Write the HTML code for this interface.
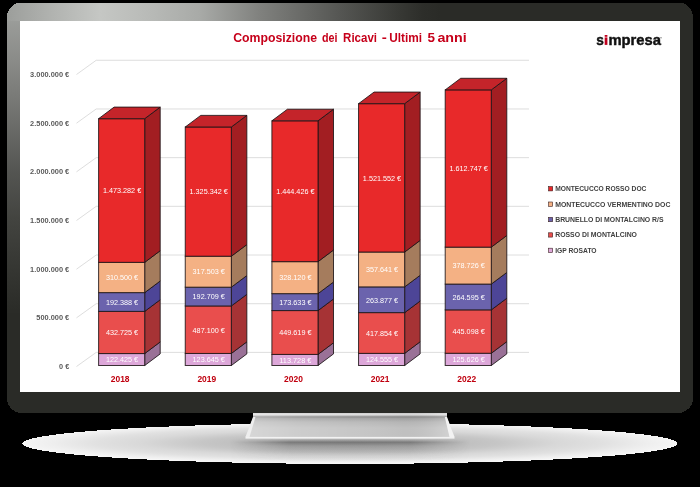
<!DOCTYPE html><html><head><meta charset="utf-8"><style>html,body{margin:0;padding:0;background:#000000;}svg{display:block;will-change:transform}text{font-family:"Liberation Sans",sans-serif}</style></head><body>
<svg width="700" height="487" viewBox="0 0 700 487">
<defs>
<radialGradient id="shg" cx="350" cy="443" r="330" gradientUnits="userSpaceOnUse" gradientTransform="translate(350 443) scale(1 0.062) translate(-350 -443)">
<stop offset="0" stop-color="#b0b0b0"/><stop offset="0.35" stop-color="#c0c0c0"/><stop offset="0.45" stop-color="#c6c6c6"/><stop offset="0.63" stop-color="#d8d8d8"/><stop offset="0.77" stop-color="#e1e1e1"/><stop offset="0.9" stop-color="#eeeeee"/><stop offset="1" stop-color="#f6f6f6"/>
</radialGradient>
<linearGradient id="topg" x1="7" y1="0" x2="440" y2="0" gradientUnits="userSpaceOnUse">
<stop offset="0" stop-color="#9c9e9b"/><stop offset="0.0993" stop-color="#b0b2af"/><stop offset="0.2148" stop-color="#c5c7c4"/><stop offset="0.33" stop-color="#b8bab7"/><stop offset="0.4457" stop-color="#a8aaa7"/><stop offset="0.584" stop-color="#80817e"/><stop offset="0.769" stop-color="#555653"/><stop offset="0.908" stop-color="#373834"/><stop offset="0.96" stop-color="#2d2e2a"/><stop offset="1" stop-color="#2a2b27"/>
</linearGradient>
<linearGradient id="leftg" x1="0" y1="21" x2="0" y2="310" gradientUnits="userSpaceOnUse">
<stop offset="0" stop-color="#9a9c99"/><stop offset="0.138" stop-color="#8a8b88"/><stop offset="0.343" stop-color="#6e6f6c"/><stop offset="0.512" stop-color="#555653"/><stop offset="0.682" stop-color="#434440"/><stop offset="0.862" stop-color="#353632"/><stop offset="1" stop-color="#2b2c28"/>
</linearGradient>
<linearGradient id="standg" x1="0" y1="416" x2="0" y2="437" gradientUnits="userSpaceOnUse">
<stop offset="0" stop-color="#b8b8b8"/><stop offset="0.3" stop-color="#d4d4d4"/><stop offset="1" stop-color="#c8c8c8"/>
</linearGradient>
<linearGradient id="neckv" x1="0" y1="412" x2="0" y2="437" gradientUnits="userSpaceOnUse">
<stop offset="0" stop-color="#a8a8a8"/><stop offset="0.06" stop-color="#d4d4d4"/><stop offset="0.12" stop-color="#e2e2e2"/><stop offset="0.16" stop-color="#a8a8a8"/><stop offset="0.2" stop-color="#8e8e8e"/><stop offset="0.26" stop-color="#a6a6a6"/><stop offset="0.4" stop-color="#bababa"/><stop offset="0.64" stop-color="#c6c6c6"/><stop offset="1" stop-color="#c6c6c6"/>
</linearGradient>
<linearGradient id="neckh" x1="245" y1="0" x2="455" y2="0" gradientUnits="userSpaceOnUse">
<stop offset="0" stop-color="#fff" stop-opacity="0.3"/><stop offset="0.25" stop-color="#fff" stop-opacity="0.12"/><stop offset="0.5" stop-color="#fff" stop-opacity="0.02"/><stop offset="0.75" stop-color="#000" stop-opacity="0.03"/><stop offset="0.92" stop-color="#fff" stop-opacity="0.08"/><stop offset="1" stop-color="#fff" stop-opacity="0.25"/>
</linearGradient>
<linearGradient id="baseg" x1="0" y1="440.8" x2="0" y2="442.8" gradientUnits="userSpaceOnUse">
<stop offset="0" stop-color="#9a9a9a"/><stop offset="1" stop-color="#b4b4b4"/>
</linearGradient>
<linearGradient id="dkv" x1="0" y1="438.6" x2="0" y2="462" gradientUnits="userSpaceOnUse">
<stop offset="0" stop-color="#555" stop-opacity="0.05"/><stop offset="0.047" stop-color="#555" stop-opacity="0.12"/><stop offset="0.12" stop-color="#555" stop-opacity="0.48"/><stop offset="0.167" stop-color="#555" stop-opacity="0.6"/><stop offset="0.316" stop-color="#555" stop-opacity="0.3"/><stop offset="0.487" stop-color="#555" stop-opacity="0.18"/><stop offset="0.658" stop-color="#555" stop-opacity="0.09"/><stop offset="0.829" stop-color="#555" stop-opacity="0.045"/><stop offset="1" stop-color="#555" stop-opacity="0"/>
</linearGradient>
<linearGradient id="dkh" x1="230" y1="0" x2="470" y2="0" gradientUnits="userSpaceOnUse">
<stop offset="0" stop-color="#000"/><stop offset="0.1" stop-color="#666"/><stop offset="0.25" stop-color="#fff"/><stop offset="0.75" stop-color="#fff"/><stop offset="0.9" stop-color="#666"/><stop offset="1" stop-color="#000"/>
</linearGradient>
<mask id="dkm" maskUnits="userSpaceOnUse" x="230" y="438" width="240" height="24"><rect x="230" y="438" width="240" height="24" fill="url(#dkh)"/></mask>
<clipPath id="bez"><path shape-rendering="crispEdges" d="M16.5,3 H683.5 A9.5,9.5 0 0 1 693,12.5 V400.3 A12.5,12.5 0 0 1 680.5,412.8 H19.5 A12.5,12.5 0 0 1 7,400.3 V12.5 A9.5,9.5 0 0 1 16.5,3 Z"/></clipPath>
</defs>
<ellipse cx="349.9" cy="443.5" rx="327.6" ry="20.4" fill="url(#shg)" shape-rendering="crispEdges"/>
<rect x="230" y="438.6" width="240" height="24" fill="url(#dkv)" mask="url(#dkm)"/>
<path d="M253,411 L447,411 L447,418 L454.5,437 L245.5,437 L253,418 Z" fill="url(#neckv)"/>
<path d="M253,411 L447,411 L447,418 L454.5,437 L245.5,437 L253,418 Z" fill="url(#neckh)"/>
<path d="M253,417 L255.5,417 L249.5,437 L245.5,437 Z" fill="#eeeeee"/>
<path d="M444.8,417 L447,417 L454.5,437 L449.5,437 Z" fill="#f3f3f3"/>
<rect x="245.5" y="436.9" width="209" height="1.7" fill="#f2f2f2"/>
<path shape-rendering="crispEdges" d="M20.1,2.6 H679.9 A13.5,17 0 0 1 693.4,19.6 V397.2 A16,16 0 0 1 677.4,413.2 H22.6 A16,16 0 0 1 6.6,397.2 V19.6 A13.5,17 0 0 1 20.1,2.6 Z" fill="#2a2b27"/>
<path shape-rendering="crispEdges" d="M20.1,2.6 H447 V21 H6.6 V19.6 A13.5,17 0 0 1 20.1,2.6 Z" fill="url(#topg)"/>
<rect shape-rendering="crispEdges" x="6.6" y="21" width="13.4" height="292" fill="url(#leftg)"/>
<rect x="20" y="21" width="660" height="371" fill="#ffffff"/>
<polyline points="76.5,366.50 96.2,352.40 529,352.40" fill="none" stroke="#d9d9d9" stroke-width="0.9"/>
<text x="59.07" y="369.10" font-size="7.2" font-weight="bold" fill="#595959" textLength="10.13" lengthAdjust="spacingAndGlyphs">0 €</text>
<polyline points="76.5,317.83 96.2,303.71 529,303.71" fill="none" stroke="#d9d9d9" stroke-width="0.9"/>
<text x="36.30" y="320.44" font-size="7.2" font-weight="bold" fill="#595959" textLength="32.90" lengthAdjust="spacingAndGlyphs">500.000 €</text>
<polyline points="76.5,269.17 96.2,255.03 529,255.03" fill="none" stroke="#d9d9d9" stroke-width="0.9"/>
<text x="30.10" y="271.77" font-size="7.2" font-weight="bold" fill="#595959" textLength="39.10" lengthAdjust="spacingAndGlyphs">1.000.000 €</text>
<polyline points="76.5,220.50 96.2,206.34 529,206.34" fill="none" stroke="#d9d9d9" stroke-width="0.9"/>
<text x="30.10" y="223.10" font-size="7.2" font-weight="bold" fill="#595959" textLength="39.10" lengthAdjust="spacingAndGlyphs">1.500.000 €</text>
<polyline points="76.5,171.84 96.2,157.66 529,157.66" fill="none" stroke="#d9d9d9" stroke-width="0.9"/>
<text x="30.10" y="174.44" font-size="7.2" font-weight="bold" fill="#595959" textLength="39.10" lengthAdjust="spacingAndGlyphs">2.000.000 €</text>
<polyline points="76.5,123.18 96.2,108.97 529,108.97" fill="none" stroke="#d9d9d9" stroke-width="0.9"/>
<text x="30.10" y="125.78" font-size="7.2" font-weight="bold" fill="#595959" textLength="39.10" lengthAdjust="spacingAndGlyphs">2.500.000 €</text>
<polyline points="76.5,74.51 96.2,60.29 529,60.29" fill="none" stroke="#d9d9d9" stroke-width="0.9"/>
<text x="30.10" y="77.11" font-size="7.2" font-weight="bold" fill="#595959" textLength="39.10" lengthAdjust="spacingAndGlyphs">3.000.000 €</text>
<path d="M144.70,365.50 L160.20,353.90 L160.20,341.96 L144.70,353.56 Z" fill="#9a7197" stroke="#1c1416" stroke-opacity="0.85" stroke-width="1" stroke-linejoin="round"/>
<rect x="98.60" y="353.56" width="46.1" height="11.94" fill="#dda7d9" stroke="#1c1416" stroke-opacity="0.85" stroke-width="1"/>
<path d="M144.70,353.56 L160.20,341.96 L160.20,299.77 L144.70,311.37 Z" fill="#a63335" stroke="#1c1416" stroke-opacity="0.85" stroke-width="1" stroke-linejoin="round"/>
<rect x="98.60" y="311.37" width="46.1" height="42.19" fill="#e94e4d" stroke="#1c1416" stroke-opacity="0.85" stroke-width="1"/>
<path d="M144.70,311.37 L160.20,299.77 L160.20,281.02 L144.70,292.62 Z" fill="#4d4597" stroke="#1c1416" stroke-opacity="0.85" stroke-width="1" stroke-linejoin="round"/>
<rect x="98.60" y="292.62" width="46.1" height="18.76" fill="#6b63ad" stroke="#1c1416" stroke-opacity="0.85" stroke-width="1"/>
<path d="M144.70,292.62 L160.20,281.02 L160.20,250.74 L144.70,262.34 Z" fill="#a57c5d" stroke="#1c1416" stroke-opacity="0.85" stroke-width="1" stroke-linejoin="round"/>
<rect x="98.60" y="262.34" width="46.1" height="30.27" fill="#f4b184" stroke="#1c1416" stroke-opacity="0.85" stroke-width="1"/>
<path d="M144.70,262.34 L160.20,250.74 L160.20,107.10 L144.70,118.70 Z" fill="#a21e22" stroke="#1c1416" stroke-opacity="0.85" stroke-width="1" stroke-linejoin="round"/>
<rect x="98.60" y="118.70" width="46.1" height="143.64" fill="#e8292a" stroke="#1c1416" stroke-opacity="0.85" stroke-width="1"/>
<path d="M98.60,118.70 L114.10,107.10 L160.20,107.10 L144.70,118.70 Z" fill="#c4242a" stroke="#1c1416" stroke-opacity="0.85" stroke-width="1" stroke-linejoin="round"/>
<text x="105.94" y="362.33" font-size="7.6" fill="#ffffff" textLength="32.22" lengthAdjust="spacingAndGlyphs">122.425 €</text>
<text x="105.94" y="335.27" font-size="7.6" fill="#ffffff" textLength="32.22" lengthAdjust="spacingAndGlyphs">432.725 €</text>
<text x="105.94" y="304.79" font-size="7.6" fill="#ffffff" textLength="32.22" lengthAdjust="spacingAndGlyphs">192.388 €</text>
<text x="105.94" y="280.28" font-size="7.6" fill="#ffffff" textLength="32.22" lengthAdjust="spacingAndGlyphs">310.500 €</text>
<text x="102.91" y="193.32" font-size="7.6" fill="#ffffff" textLength="38.29" lengthAdjust="spacingAndGlyphs">1.473.282 €</text>
<text x="110.75" y="381.8" font-size="8.2" font-weight="bold" fill="#c0000f" textLength="18.8" lengthAdjust="spacingAndGlyphs">2018</text>
<path d="M231.35,365.50 L246.85,353.90 L246.85,341.84 L231.35,353.44 Z" fill="#9a7197" stroke="#1c1416" stroke-opacity="0.85" stroke-width="1" stroke-linejoin="round"/>
<rect x="185.25" y="353.44" width="46.1" height="12.06" fill="#dda7d9" stroke="#1c1416" stroke-opacity="0.85" stroke-width="1"/>
<path d="M231.35,353.44 L246.85,341.84 L246.85,294.35 L231.35,305.95 Z" fill="#a63335" stroke="#1c1416" stroke-opacity="0.85" stroke-width="1" stroke-linejoin="round"/>
<rect x="185.25" y="305.95" width="46.1" height="47.49" fill="#e94e4d" stroke="#1c1416" stroke-opacity="0.85" stroke-width="1"/>
<path d="M231.35,305.95 L246.85,294.35 L246.85,275.56 L231.35,287.16 Z" fill="#4d4597" stroke="#1c1416" stroke-opacity="0.85" stroke-width="1" stroke-linejoin="round"/>
<rect x="185.25" y="287.16" width="46.1" height="18.79" fill="#6b63ad" stroke="#1c1416" stroke-opacity="0.85" stroke-width="1"/>
<path d="M231.35,287.16 L246.85,275.56 L246.85,244.61 L231.35,256.21 Z" fill="#a57c5d" stroke="#1c1416" stroke-opacity="0.85" stroke-width="1" stroke-linejoin="round"/>
<rect x="185.25" y="256.21" width="46.1" height="30.96" fill="#f4b184" stroke="#1c1416" stroke-opacity="0.85" stroke-width="1"/>
<path d="M231.35,256.21 L246.85,244.61 L246.85,115.39 L231.35,126.99 Z" fill="#a21e22" stroke="#1c1416" stroke-opacity="0.85" stroke-width="1" stroke-linejoin="round"/>
<rect x="185.25" y="126.99" width="46.1" height="129.22" fill="#e8292a" stroke="#1c1416" stroke-opacity="0.85" stroke-width="1"/>
<path d="M185.25,126.99 L200.75,115.39 L246.85,115.39 L231.35,126.99 Z" fill="#c4242a" stroke="#1c1416" stroke-opacity="0.85" stroke-width="1" stroke-linejoin="round"/>
<text x="192.59" y="362.27" font-size="7.6" fill="#ffffff" textLength="32.22" lengthAdjust="spacingAndGlyphs">123.645 €</text>
<text x="192.59" y="332.50" font-size="7.6" fill="#ffffff" textLength="32.22" lengthAdjust="spacingAndGlyphs">487.100 €</text>
<text x="192.59" y="299.36" font-size="7.6" fill="#ffffff" textLength="32.22" lengthAdjust="spacingAndGlyphs">192.709 €</text>
<text x="192.59" y="274.48" font-size="7.6" fill="#ffffff" textLength="32.22" lengthAdjust="spacingAndGlyphs">317.503 €</text>
<text x="189.56" y="194.40" font-size="7.6" fill="#ffffff" textLength="38.29" lengthAdjust="spacingAndGlyphs">1.325.342 €</text>
<text x="197.40" y="381.8" font-size="8.2" font-weight="bold" fill="#c0000f" textLength="18.8" lengthAdjust="spacingAndGlyphs">2019</text>
<path d="M318.00,365.50 L333.50,353.90 L333.50,342.81 L318.00,354.41 Z" fill="#9a7197" stroke="#1c1416" stroke-opacity="0.85" stroke-width="1" stroke-linejoin="round"/>
<rect x="271.90" y="354.41" width="46.1" height="11.09" fill="#dda7d9" stroke="#1c1416" stroke-opacity="0.85" stroke-width="1"/>
<path d="M318.00,354.41 L333.50,342.81 L333.50,298.97 L318.00,310.57 Z" fill="#a63335" stroke="#1c1416" stroke-opacity="0.85" stroke-width="1" stroke-linejoin="round"/>
<rect x="271.90" y="310.57" width="46.1" height="43.84" fill="#e94e4d" stroke="#1c1416" stroke-opacity="0.85" stroke-width="1"/>
<path d="M318.00,310.57 L333.50,298.97 L333.50,282.04 L318.00,293.64 Z" fill="#4d4597" stroke="#1c1416" stroke-opacity="0.85" stroke-width="1" stroke-linejoin="round"/>
<rect x="271.90" y="293.64" width="46.1" height="16.93" fill="#6b63ad" stroke="#1c1416" stroke-opacity="0.85" stroke-width="1"/>
<path d="M318.00,293.64 L333.50,282.04 L333.50,250.05 L318.00,261.65 Z" fill="#a57c5d" stroke="#1c1416" stroke-opacity="0.85" stroke-width="1" stroke-linejoin="round"/>
<rect x="271.90" y="261.65" width="46.1" height="31.99" fill="#f4b184" stroke="#1c1416" stroke-opacity="0.85" stroke-width="1"/>
<path d="M318.00,261.65 L333.50,250.05 L333.50,109.22 L318.00,120.82 Z" fill="#a21e22" stroke="#1c1416" stroke-opacity="0.85" stroke-width="1" stroke-linejoin="round"/>
<rect x="271.90" y="120.82" width="46.1" height="140.83" fill="#e8292a" stroke="#1c1416" stroke-opacity="0.85" stroke-width="1"/>
<path d="M271.90,120.82 L287.40,109.22 L333.50,109.22 L318.00,120.82 Z" fill="#c4242a" stroke="#1c1416" stroke-opacity="0.85" stroke-width="1" stroke-linejoin="round"/>
<text x="279.24" y="362.76" font-size="7.6" fill="#ffffff" textLength="32.22" lengthAdjust="spacingAndGlyphs">113.728 €</text>
<text x="279.24" y="335.29" font-size="7.6" fill="#ffffff" textLength="32.22" lengthAdjust="spacingAndGlyphs">449.619 €</text>
<text x="279.24" y="304.91" font-size="7.6" fill="#ffffff" textLength="32.22" lengthAdjust="spacingAndGlyphs">173.633 €</text>
<text x="279.24" y="280.45" font-size="7.6" fill="#ffffff" textLength="32.22" lengthAdjust="spacingAndGlyphs">328.120 €</text>
<text x="276.21" y="194.04" font-size="7.6" fill="#ffffff" textLength="38.29" lengthAdjust="spacingAndGlyphs">1.444.426 €</text>
<text x="284.05" y="381.8" font-size="8.2" font-weight="bold" fill="#c0000f" textLength="18.8" lengthAdjust="spacingAndGlyphs">2020</text>
<path d="M404.65,365.50 L420.15,353.90 L420.15,341.76 L404.65,353.36 Z" fill="#9a7197" stroke="#1c1416" stroke-opacity="0.85" stroke-width="1" stroke-linejoin="round"/>
<rect x="358.55" y="353.36" width="46.1" height="12.14" fill="#dda7d9" stroke="#1c1416" stroke-opacity="0.85" stroke-width="1"/>
<path d="M404.65,353.36 L420.15,341.76 L420.15,301.02 L404.65,312.62 Z" fill="#a63335" stroke="#1c1416" stroke-opacity="0.85" stroke-width="1" stroke-linejoin="round"/>
<rect x="358.55" y="312.62" width="46.1" height="40.74" fill="#e94e4d" stroke="#1c1416" stroke-opacity="0.85" stroke-width="1"/>
<path d="M404.65,312.62 L420.15,301.02 L420.15,275.29 L404.65,286.89 Z" fill="#4d4597" stroke="#1c1416" stroke-opacity="0.85" stroke-width="1" stroke-linejoin="round"/>
<rect x="358.55" y="286.89" width="46.1" height="25.73" fill="#6b63ad" stroke="#1c1416" stroke-opacity="0.85" stroke-width="1"/>
<path d="M404.65,286.89 L420.15,275.29 L420.15,240.42 L404.65,252.02 Z" fill="#a57c5d" stroke="#1c1416" stroke-opacity="0.85" stroke-width="1" stroke-linejoin="round"/>
<rect x="358.55" y="252.02" width="46.1" height="34.87" fill="#f4b184" stroke="#1c1416" stroke-opacity="0.85" stroke-width="1"/>
<path d="M404.65,252.02 L420.15,240.42 L420.15,92.07 L404.65,103.67 Z" fill="#a21e22" stroke="#1c1416" stroke-opacity="0.85" stroke-width="1" stroke-linejoin="round"/>
<rect x="358.55" y="103.67" width="46.1" height="148.35" fill="#e8292a" stroke="#1c1416" stroke-opacity="0.85" stroke-width="1"/>
<path d="M358.55,103.67 L374.05,92.07 L420.15,92.07 L404.65,103.67 Z" fill="#c4242a" stroke="#1c1416" stroke-opacity="0.85" stroke-width="1" stroke-linejoin="round"/>
<text x="365.89" y="362.23" font-size="7.6" fill="#ffffff" textLength="32.22" lengthAdjust="spacingAndGlyphs">124.555 €</text>
<text x="365.89" y="335.79" font-size="7.6" fill="#ffffff" textLength="32.22" lengthAdjust="spacingAndGlyphs">417.854 €</text>
<text x="365.89" y="302.55" font-size="7.6" fill="#ffffff" textLength="32.22" lengthAdjust="spacingAndGlyphs">263.877 €</text>
<text x="365.89" y="272.25" font-size="7.6" fill="#ffffff" textLength="32.22" lengthAdjust="spacingAndGlyphs">357.641 €</text>
<text x="362.86" y="180.64" font-size="7.6" fill="#ffffff" textLength="38.29" lengthAdjust="spacingAndGlyphs">1.521.552 €</text>
<text x="370.70" y="381.8" font-size="8.2" font-weight="bold" fill="#c0000f" textLength="18.8" lengthAdjust="spacingAndGlyphs">2021</text>
<path d="M491.30,365.50 L506.80,353.90 L506.80,341.65 L491.30,353.25 Z" fill="#9a7197" stroke="#1c1416" stroke-opacity="0.85" stroke-width="1" stroke-linejoin="round"/>
<rect x="445.20" y="353.25" width="46.1" height="12.25" fill="#dda7d9" stroke="#1c1416" stroke-opacity="0.85" stroke-width="1"/>
<path d="M491.30,353.25 L506.80,341.65 L506.80,298.25 L491.30,309.85 Z" fill="#a63335" stroke="#1c1416" stroke-opacity="0.85" stroke-width="1" stroke-linejoin="round"/>
<rect x="445.20" y="309.85" width="46.1" height="43.40" fill="#e94e4d" stroke="#1c1416" stroke-opacity="0.85" stroke-width="1"/>
<path d="M491.30,309.85 L506.80,298.25 L506.80,272.46 L491.30,284.06 Z" fill="#4d4597" stroke="#1c1416" stroke-opacity="0.85" stroke-width="1" stroke-linejoin="round"/>
<rect x="445.20" y="284.06" width="46.1" height="25.80" fill="#6b63ad" stroke="#1c1416" stroke-opacity="0.85" stroke-width="1"/>
<path d="M491.30,284.06 L506.80,272.46 L506.80,235.53 L491.30,247.13 Z" fill="#a57c5d" stroke="#1c1416" stroke-opacity="0.85" stroke-width="1" stroke-linejoin="round"/>
<rect x="445.20" y="247.13" width="46.1" height="36.93" fill="#f4b184" stroke="#1c1416" stroke-opacity="0.85" stroke-width="1"/>
<path d="M491.30,247.13 L506.80,235.53 L506.80,78.29 L491.30,89.89 Z" fill="#a21e22" stroke="#1c1416" stroke-opacity="0.85" stroke-width="1" stroke-linejoin="round"/>
<rect x="445.20" y="89.89" width="46.1" height="157.24" fill="#e8292a" stroke="#1c1416" stroke-opacity="0.85" stroke-width="1"/>
<path d="M445.20,89.89 L460.70,78.29 L506.80,78.29 L491.30,89.89 Z" fill="#c4242a" stroke="#1c1416" stroke-opacity="0.85" stroke-width="1" stroke-linejoin="round"/>
<text x="452.54" y="362.18" font-size="7.6" fill="#ffffff" textLength="32.22" lengthAdjust="spacingAndGlyphs">125.626 €</text>
<text x="452.54" y="334.35" font-size="7.6" fill="#ffffff" textLength="32.22" lengthAdjust="spacingAndGlyphs">445.098 €</text>
<text x="452.54" y="299.76" font-size="7.6" fill="#ffffff" textLength="32.22" lengthAdjust="spacingAndGlyphs">264.595 €</text>
<text x="452.54" y="268.39" font-size="7.6" fill="#ffffff" textLength="32.22" lengthAdjust="spacingAndGlyphs">378.726 €</text>
<text x="449.51" y="171.31" font-size="7.6" fill="#ffffff" textLength="38.29" lengthAdjust="spacingAndGlyphs">1.612.747 €</text>
<text x="457.35" y="381.8" font-size="8.2" font-weight="bold" fill="#c0000f" textLength="18.8" lengthAdjust="spacingAndGlyphs">2022</text>
<text x="233.20" y="41.9" font-size="13.1" font-weight="bold" fill="#c6001a" textLength="83.80" lengthAdjust="spacingAndGlyphs">Composizione</text>
<text x="322.00" y="41.9" font-size="13.1" font-weight="bold" fill="#c6001a" textLength="15.50" lengthAdjust="spacingAndGlyphs">dei</text>
<text x="343.10" y="41.9" font-size="13.1" font-weight="bold" fill="#c6001a" textLength="33.90" lengthAdjust="spacingAndGlyphs">Ricavi</text>
<text x="381.70" y="41.9" font-size="13.1" font-weight="bold" fill="#c6001a" textLength="5.10" lengthAdjust="spacingAndGlyphs">-</text>
<text x="389.20" y="41.9" font-size="13.1" font-weight="bold" fill="#c6001a" textLength="32.90" lengthAdjust="spacingAndGlyphs">Ultimi</text>
<text x="427.60" y="41.9" font-size="13.1" font-weight="bold" fill="#c6001a" textLength="7.50" lengthAdjust="spacingAndGlyphs">5</text>
<text x="437.40" y="41.9" font-size="13.1" font-weight="bold" fill="#c6001a" textLength="29.30" lengthAdjust="spacingAndGlyphs">anni</text>
<text x="596.2" y="44.9" font-size="15.2" font-weight="bold" fill="#111111" stroke="#111111" stroke-width="0.45" textLength="7.6" lengthAdjust="spacingAndGlyphs">s</text>
<rect x="604.7" y="37.4" width="2.7" height="7.5" fill="#c0001e"/><rect x="604.7" y="35.0" width="2.7" height="1.8" fill="#c0001e"/>
<text x="608.4" y="44.9" font-size="15.2" font-weight="bold" fill="#111111" stroke="#111111" stroke-width="0.45" textLength="52.6" lengthAdjust="spacingAndGlyphs">mpresa</text>
<rect x="660.5" y="37.3" width="1" height="1" fill="#333"/>
<rect x="548.6" y="186.60" width="4.1" height="4.3" fill="#e8292a" stroke="#3a2020" stroke-width="0.6"/>
<text x="555.2" y="191.20" font-size="7.0" font-weight="bold" fill="#404040" textLength="91.2" lengthAdjust="spacingAndGlyphs">MONTECUCCO ROSSO DOC</text>
<rect x="548.6" y="202.00" width="4.1" height="4.3" fill="#f4b184" stroke="#3a2020" stroke-width="0.6"/>
<text x="555.2" y="206.60" font-size="7.0" font-weight="bold" fill="#404040" textLength="115.2" lengthAdjust="spacingAndGlyphs">MONTECUCCO VERMENTINO DOC</text>
<rect x="548.6" y="217.40" width="4.1" height="4.3" fill="#6b63ad" stroke="#3a2020" stroke-width="0.6"/>
<text x="555.2" y="222.00" font-size="7.0" font-weight="bold" fill="#404040" textLength="108.4" lengthAdjust="spacingAndGlyphs">BRUNELLO DI MONTALCINO R/S</text>
<rect x="548.6" y="232.80" width="4.1" height="4.3" fill="#e94e4d" stroke="#3a2020" stroke-width="0.6"/>
<text x="555.2" y="237.40" font-size="7.0" font-weight="bold" fill="#404040" textLength="81.8" lengthAdjust="spacingAndGlyphs">ROSSO DI MONTALCINO</text>
<rect x="548.6" y="248.20" width="4.1" height="4.3" fill="#dda7d9" stroke="#3a2020" stroke-width="0.6"/>
<text x="555.2" y="252.80" font-size="7.0" font-weight="bold" fill="#404040" textLength="41.4" lengthAdjust="spacingAndGlyphs">IGP ROSATO</text>
</svg></body></html>
